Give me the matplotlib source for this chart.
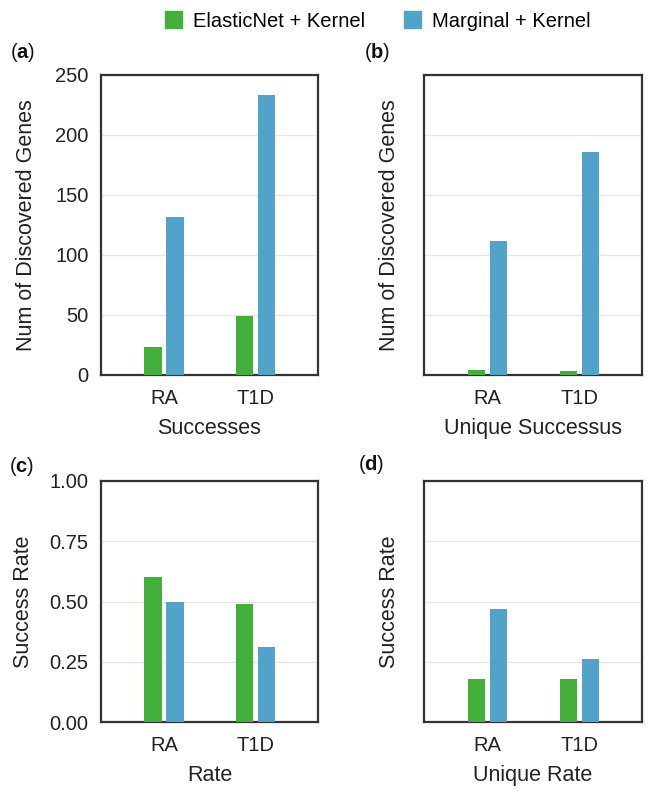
import matplotlib
matplotlib.use("Agg")
import matplotlib.pyplot as plt
import numpy as np
from matplotlib.patches import Patch

plt.rcParams['font.family'] = ['Liberation Sans', 'DejaVu Sans']
plt.rcParams['mathtext.fontset'] = 'custom'
plt.rcParams['mathtext.rm'] = 'Liberation Sans'
plt.rcParams['mathtext.bf'] = 'Liberation Sans:bold'

categories = ["RA", "T1D"]
series_names = ["ElasticNet + Kernel", "Marginal + Kernel"]
colors = ["#43b03a", "#52a3c9"]

successes_elastic = [23, 49]
successes_marginal = [132, 233]
unique_succ_elastic = [4, 3]
unique_succ_marginal = [112, 186]
rate_elastic = [0.60, 0.49]
rate_marginal = [0.50, 0.31]
unique_rate_elastic = [0.18, 0.18]
unique_rate_marginal = [0.47, 0.26]

W, H = 649, 795
fig = plt.figure(figsize=(W / 100, H / 100), dpi=100)

def ax_at(x0, y0, x1, y1):
    return fig.add_axes([x0 / W, 1 - y1 / H, (x1 - x0) / W, (y1 - y0) / H])

panels = [
    dict(box=(101, 75, 318, 375), e=successes_elastic, m=successes_marginal,
         ylim=(0, 250), yt=[0, 50, 100, 150, 200, 250], ylab="Num of Discovered Genes",
         xlab="Successes", show=True, tag="a", fmt="{:.0f}", ylx=37.5, tagxy=(10, 53)),
    dict(box=(424, 75, 642, 375), e=unique_succ_elastic, m=unique_succ_marginal,
         ylim=(0, 250), yt=[0, 50, 100, 150, 200, 250], ylab="Num of Discovered Genes",
         xlab="Unique Successus", show=False, tag="b", fmt="{:.0f}", ylx=400.5, tagxy=(364, 53)),
    dict(box=(101, 481, 318, 722), e=rate_elastic, m=rate_marginal,
         ylim=(0, 1.0), yt=[0, 0.25, 0.5, 0.75, 1.0], ylab="Success Rate",
         xlab="Rate", show=True, tag="c", fmt="{:.2f}", ylx=34.5, tagxy=(9, 466)),
    dict(box=(424, 481, 642, 722), e=unique_rate_elastic, m=unique_rate_marginal,
         ylim=(0, 1.0), yt=[0, 0.25, 0.5, 0.75, 1.0], ylab="Success Rate",
         xlab="Unique Rate", show=False, tag="d", fmt="{:.2f}", ylx=400.5, tagxy=(358, 464)),
]

x = np.arange(len(categories))
bw = 0.19
off = 0.12
for p in panels:
    ax = ax_at(*p["box"])
    ax.bar(x - off, p["e"], bw, color=colors[0], zorder=3)
    ax.bar(x + off, p["m"], bw, color=colors[1], zorder=3)
    ax.set_xlim(-0.69, 1.68)
    ax.set_ylim(*p["ylim"])
    ax.set_yticks(p["yt"])
    if p["show"]:
        ax.set_yticklabels([p["fmt"].format(v) for v in p["yt"]])
    else:
        ax.set_yticklabels([])
    ax.set_xticks(x)
    ax.set_xticklabels(categories)
    ax.tick_params(length=0, labelsize=14.5, colors="#222222")
    ax.tick_params(axis="x", pad=10)
    ax.tick_params(axis="y", pad=9)
    ax.yaxis.grid(True, color="#e6e6e6", linewidth=1.0, zorder=0)
    for s in ax.spines.values():
        s.set_color("#333333")
        s.set_linewidth(1.6)
    x0, y0, x1, y1 = p["box"]
    ax.set_ylabel(p["ylab"], fontsize=15.5, color="#222222")
    ax.yaxis.set_label_coords((p["ylx"] - x0) / (x1 - x0), 0.5)
    ax.set_xlabel(p["xlab"], fontsize=15.5, color="#222222", labelpad=7)
    tx, ty = p["tagxy"]
    fig.text(tx / W, 1 - ty / H, "($\\bf{" + p["tag"] + "}$)", fontsize=14.5,
             va="center", ha="left", color="#111111")

handles = [Patch(color=c) for c in colors]
fig.legend(handles, series_names, loc="center", bbox_to_anchor=(378 / W, 1 - 21 / H),
           ncol=2, frameon=False, fontsize=14.5, handlelength=0.85, handleheight=0.85,
           columnspacing=1.9, handletextpad=0.55)

fig.savefig("out.png", dpi=100)
